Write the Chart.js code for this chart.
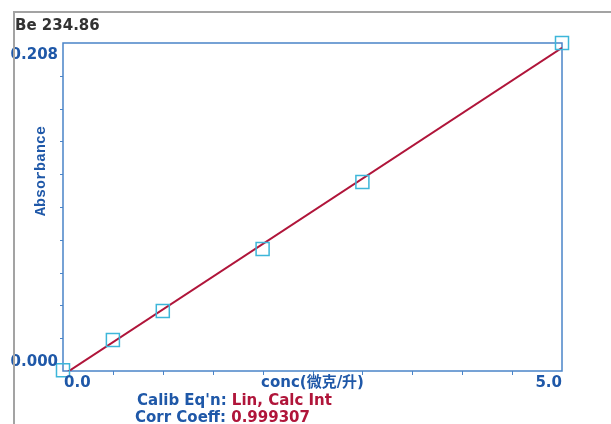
<!DOCTYPE html>
<html><head><meta charset="utf-8">
<script src="https://cdn.jsdelivr.net/npm/chart.js@4"></script>
<style>html,body{margin:0;padding:0;background:#fff;overflow:hidden}#wrap{position:relative;width:611px;height:424px}</style>
</head><body><div id="wrap"><canvas id="c" width="611" height="424"></canvas></div>
<script>
const title = 'Be 234.86';
const concs = [0, 0.5, 1, 2, 3, 5];
const absorb = [0.0005, 0.0197, 0.0381, 0.0774, 0.1199, 0.2080];
const fitX = [0, 5];
const fitY = [-0.0025, 0.2050];
const xTickValues = [0, 5];
const xTickLabels = ['0.0', '5.0'];
const yTickValues = [0, 0.208];
const yTickLabels = ['0.000', '0.208'];
const xMinorStep = 0.5;
const yMinorStep = 0.0208;
const xTitle = 'conc(微克/升)';
const yTitle = 'Absorbance';
const calibLabel = "Calib Eq'n: ";
const calibValue = 'Lin, Calc Int';
const corrLabel = 'Corr Coeff: ';
const corrValue = '0.999307';

const BLUE_TXT = '#1f58a8';
const AXIS = '#4a84c8';
const RED = '#b0153a';
const CYAN = '#3db6d9';
const FONT = '"DejaVu Sans", "Noto Sans CJK SC", sans-serif';
const MONO = '"Liberation Mono", "DejaVu Sans Mono", monospace';

const framePlugin = {
  id: 'frame',
  beforeDraw(chart) {
    const ctx = chart.ctx;
    ctx.save();
    ctx.fillStyle = '#fff';
    ctx.fillRect(0, 0, chart.width, chart.height);
    ctx.restore();
  },
  beforeDatasetsDraw(chart) {
    const ctx = chart.ctx, a = chart.chartArea;
    const xs = chart.scales.x, ys = chart.scales.y;
    ctx.save();
    ctx.strokeStyle = AXIS;
    ctx.lineWidth = 1.5;
    ctx.strokeRect(a.left, a.top, a.right - a.left, a.bottom - a.top);
    ctx.lineWidth = 1;
    ctx.beginPath();
    for (let v = xMinorStep; v < xs.max - 1e-9; v += xMinorStep) {
      const px = Math.round(xs.getPixelForValue(v)) + 0.5;
      ctx.moveTo(px, a.bottom); ctx.lineTo(px, a.bottom + 4);
    }
    for (let v = yMinorStep; v < ys.max - 1e-9; v += yMinorStep) {
      const py = Math.round(ys.getPixelForValue(v)) + 0.5;
      ctx.moveTo(a.left, py); ctx.lineTo(a.left - 3, py);
    }
    ctx.stroke();
    ctx.restore();
  },
  afterDraw(chart) {
    const ctx = chart.ctx, a = chart.chartArea;
    const xs = chart.scales.x, ys = chart.scales.y;
    ctx.save();
    // title
    ctx.fillStyle = '#333';
    ctx.font = 'bold 15px ' + FONT;
    ctx.textAlign = 'left'; ctx.textBaseline = 'alphabetic';
    ctx.fillText(title, 15, 30);
    // y tick labels
    ctx.fillStyle = BLUE_TXT;
    ctx.font = 'bold 15px ' + FONT;
    ctx.textAlign = 'right';
    yTickValues.forEach((v, i) => {
      const py = ys.getPixelForValue(v);
      const base = i === 0 ? py - 5 : py + 16;
      ctx.fillText(yTickLabels[i], a.left - 5, base);
    });
    // x tick labels
    xTickValues.forEach((v, i) => {
      const px = xs.getPixelForValue(v);
      ctx.textAlign = i === 0 ? 'left' : 'right';
      ctx.fillText(xTickLabels[i], i === 0 ? px + 1 : px, a.bottom + 16);
    });
    // x title
    ctx.textAlign = 'center';
    ctx.fillText(xTitle, (a.left + a.right) / 2, a.bottom + 16);
    // y title
    ctx.save();
    ctx.translate(45, 171);
    ctx.rotate(-Math.PI / 2);
    ctx.font = 'bold 15px ' + MONO;
    ctx.textAlign = 'center';
    ctx.fillText(yTitle, 0, 0);
    ctx.restore();
    // calib text
    ctx.textAlign = 'left';
    ctx.font = 'bold 15px ' + FONT;
    ctx.fillStyle = BLUE_TXT;
    ctx.fillText(calibLabel, 137, 405);
    let w = ctx.measureText(calibLabel).width;
    ctx.fillStyle = RED;
    ctx.fillText(calibValue, 137 + w, 405);
    ctx.fillStyle = BLUE_TXT;
    ctx.fillText(corrLabel, 135, 422);
    w = ctx.measureText(corrLabel).width;
    ctx.fillStyle = RED;
    ctx.fillText(corrValue, 135 + w, 422);
    // outer gray frame
    ctx.strokeStyle = '#a3a3a3';
    ctx.lineWidth = 2;
    ctx.beginPath();
    ctx.moveTo(14, chart.height); ctx.lineTo(14, 12); ctx.lineTo(chart.width, 12);
    ctx.stroke();
    ctx.restore();
  }
};

new Chart(document.getElementById('c'), {
  type: 'scatter',
  data: {
    datasets: [
      {
        label: 'standards',
        data: concs.map((x, i) => ({ x, y: absorb[i] })),
        pointStyle: 'rect',
        pointRadius: 9.2,
        pointBorderColor: CYAN,
        pointBackgroundColor: 'rgba(0,0,0,0)',
        pointBorderWidth: 1.5,
        clip: false,
        order: 1
      },
      {
        label: 'fit',
        type: 'line',
        data: fitX.map((x, i) => ({ x, y: fitY[i] })),
        borderColor: RED,
        borderWidth: 2,
        pointRadius: 0,
        fill: false,
        clip: 0,
        order: 2
      }
    ]
  },
  options: {
    responsive: false,
    animation: false,
    devicePixelRatio: 1,
    layout: { padding: { left: 63, top: 43, right: 49, bottom: 53 } },
    plugins: { legend: { display: false }, tooltip: { enabled: false } },
    scales: {
      x: { type: 'linear', min: 0, max: 5, display: false },
      y: { type: 'linear', min: 0, max: 0.208, display: false }
    }
  },
  plugins: [framePlugin]
});
</script>
</body></html>
